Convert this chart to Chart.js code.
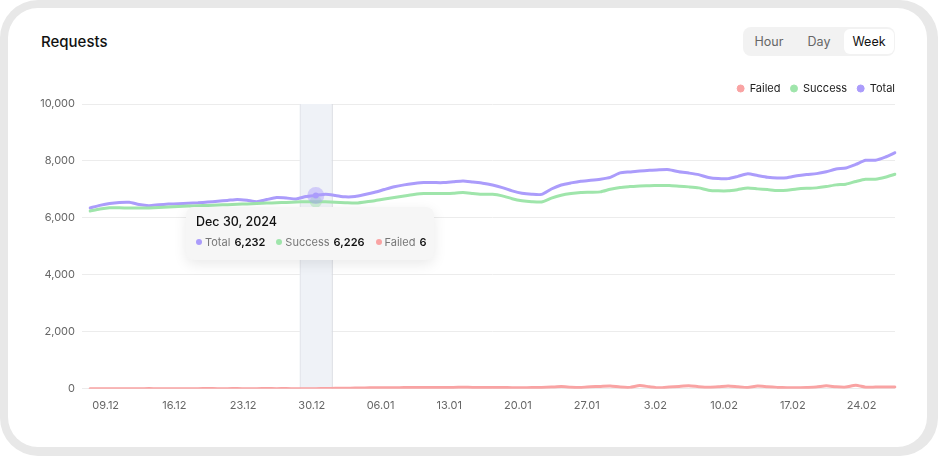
<!DOCTYPE html>
<html>
<head>
<meta charset="utf-8">
<title>Requests</title>
<script src="https://cdn.jsdelivr.net/npm/chart.js@4.4.1/dist/chart.umd.min.js"></script>
<style>
  html, body { margin: 0; padding: 0; background: #fff; }
  body { width: 938px; height: 456px; position: relative; overflow: hidden; font-family: Inter, "Noto Sans", sans-serif; }
  .frame { position: absolute; left: 0; top: 0; width: 938px; height: 456px; background: #e8e8e8; border-radius: 38px; }
  .card { position: absolute; left: 8px; top: 8px; width: 919px; height: 439px; background: #fff; border-radius: 30px; }
  .title { position: absolute; left: 41px; top: 32px; font-size: 15px; font-weight: 500; color: #111; line-height: 20px; }
  .toggle { position: absolute; left: 743px; top: 27px; width: 152px; height: 29px; background: #f2f2f2; border-radius: 8px; }
  .toggle span { position: absolute; top: 2px; height: 25px; line-height: 25px; font-size: 12.5px; color: #666; text-align: center; }
  .toggle .hour { left: 0px; width: 52px; }
  .toggle .day { left: 52px; width: 48px; }
  .toggle .week { left: 101px; width: 50px; background: #fff; border-radius: 6px; color: #111; }
  .chart-box { position: absolute; left: 20px; top: 64px; width: 890px; height: 365px; }
  .tip { position: absolute; left: 186px; top: 207px; width: 248px; height: 53px; background: #f6f6f6; border-radius: 8px;
         box-shadow: 0 4px 14px rgba(0,0,0,0.09); box-sizing: border-box; padding: 6px 0 0 10px; }
  .tip .t { font-size: 12.5px; font-weight: 500; color: #111; line-height: 18px; }
  .tip .row { margin-top: 3px; font-size: 11px; line-height: 16px; white-space: nowrap; }
  .tip .it { display: inline-block; margin-right: 11px; }
  .tip i { display: inline-block; width: 6px; height: 6px; border-radius: 50%; margin-right: 3px; vertical-align: 1px; }
  .tip .lbl { color: #777; }
  .tip b { font-weight: 600; color: #111; margin-left: 1px; }
</style>
</head>
<body>
<div class="frame"><div class="card"></div></div>
<div class="title">Requests</div>
<div class="toggle"><span class="hour">Hour</span><span class="day">Day</span><span class="week">Week</span></div>
<div class="chart-box"><canvas id="requestsChart"></canvas></div>
<div class="tip" id="tip"></div>
<script>
// Data (one point per day, 07.12.2024 - 27.02.2025)
const startDate = new Date(2024, 11, 7);
const dayCount = 83;
const tickLabels = ['09.12', '16.12', '23.12', '30.12', '06.01', '13.01', '20.01', '27.01', '3.02', '10.02', '17.02', '24.02'];
const firstTick = 2; // 09.12 is the 3rd day

const totalValues = [
  6350, 6440, 6510, 6545, 6550, 6470, 6430, 6460, 6485, 6500,
  6515, 6530, 6555, 6585, 6615, 6650, 6620, 6570, 6645, 6715,
  6700, 6665, 6750, 6790, 6830, 6790, 6740, 6750, 6820, 6900,
  7000, 7095, 7160, 7205, 7240, 7240, 7240, 7270, 7300, 7260,
  7220, 7155, 7065, 6950, 6865, 6830, 6825, 7015, 7155, 7230,
  7290, 7320, 7360, 7425, 7580, 7615, 7650, 7670, 7690, 7695,
  7620, 7575, 7520, 7420, 7380, 7380, 7460, 7550, 7490, 7430,
  7400, 7410, 7480, 7525, 7555, 7620, 7715, 7755, 7880, 8025,
  8025, 8135, 8290
];
const successValues = [
  6245, 6315, 6360, 6355, 6350, 6345, 6350, 6365, 6385, 6400,
  6415, 6430, 6440, 6455, 6465, 6480, 6490, 6505, 6520, 6535,
  6545, 6560, 6570, 6570, 6565, 6550, 6535, 6520, 6560, 6605,
  6665, 6715, 6770, 6820, 6855, 6855, 6855, 6870, 6890, 6860,
  6830, 6830, 6775, 6675, 6605, 6570, 6560, 6695, 6795, 6855,
  6890, 6900, 6915, 7005, 7070, 7100, 7125, 7130, 7140, 7140,
  7115, 7090, 7055, 6975, 6950, 6950, 6995, 7050, 7020, 6995,
  6960, 6970, 7015, 7040, 7055, 7100, 7160, 7185, 7280, 7360,
  7360, 7430, 7535
];
const failedValues = [
  4, 5, 3, 6, 5, 4, 7, 5, 6, 4,
  5, 6, 8, 5, 6, 7, 5, 6, 8, 6,
  7, 5, 6, 6, 10, 15, 20, 25, 30, 35,
  38, 40, 42, 45, 47, 48, 50, 50, 52, 50,
  48, 46, 44, 40, 38, 42, 48, 60, 80, 55,
  45, 70, 85, 100, 60, 50, 115, 70, 35, 60,
  85, 105, 75, 55, 70, 100, 70, 45, 95, 70,
  50, 40, 35, 45, 60, 105, 70, 60, 125, 55,
  60, 65, 65
];

// Hovered day and the values its tooltip shows
const hoverIndex = 23;
const hoverTitle = 'Dec 30, 2024';
const tooltipNames = ['Total', 'Success', 'Failed'];
const tooltipValues = [6232, 6226, 6];

const colors = { Total: '#ab9cfb', Success: '#9fe5ab', Failed: '#f9a3a3' };

const categories = [];
for (let i = 0; i < dayCount; i++) {
  const d = new Date(startDate);
  d.setDate(d.getDate() + i);
  categories.push(String(d.getDate()).padStart(2, '0') + '.' + String(d.getMonth() + 1).padStart(2, '0'));
}

// Hover band + halo on the hovered point
const hoverPlugin = {
  id: 'hoverBand',
  beforeDatasetsDraw(chart) {
    const { ctx, chartArea, scales } = chart;
    const x = scales.x.getPixelForValue(hoverIndex);
    ctx.save();
    ctx.fillStyle = '#eff2f7';
    ctx.fillRect(x - 16, chartArea.top, 32, chartArea.bottom - chartArea.top);
    ctx.strokeStyle = '#e2e5ea';
    ctx.lineWidth = 1;
    ctx.beginPath();
    ctx.moveTo(x - 15.5, chartArea.top);
    ctx.lineTo(x - 15.5, chartArea.bottom);
    ctx.stroke();
    ctx.strokeStyle = '#d9dce2';
    ctx.beginPath();
    ctx.moveTo(x + 16.5, chartArea.top);
    ctx.lineTo(x + 16.5, chartArea.bottom);
    ctx.stroke();
    ctx.restore();
  },
  afterDatasetsDraw(chart) {
    const { ctx, scales } = chart;
    const x = scales.x.getPixelForValue(hoverIndex);
    const yTotal = scales.y.getPixelForValue(totalValues[hoverIndex]);
    const ySuccess = scales.y.getPixelForValue(successValues[hoverIndex]);
    ctx.save();
    ctx.fillStyle = 'rgba(159,229,171,0.45)';
    ctx.beginPath();
    ctx.arc(x, ySuccess, 6, 0, Math.PI * 2);
    ctx.fill();
    ctx.fillStyle = 'rgba(171,156,251,0.45)';
    ctx.beginPath();
    ctx.arc(x, yTotal, 8.5, 0, Math.PI * 2);
    ctx.fill();
    ctx.fillStyle = colors.Total;
    ctx.beginPath();
    ctx.arc(x, yTotal, 3, 0, Math.PI * 2);
    ctx.fill();
    ctx.restore();
  }
};

const ctx = document.getElementById('requestsChart').getContext('2d');
new Chart(ctx, {
  type: 'line',
  data: {
    labels: categories,
    datasets: [
      { label: 'Failed', data: failedValues, borderColor: colors.Failed, backgroundColor: colors.Failed },
      { label: 'Success', data: successValues, borderColor: colors.Success, backgroundColor: colors.Success },
      { label: 'Total', data: totalValues, borderColor: colors.Total, backgroundColor: colors.Total }
    ]
  },
  options: {
    responsive: true,
    maintainAspectRatio: false,
    animation: false,
    layout: { padding: { top: 9, right: 5, bottom: 15, left: 0 } },
    elements: {
      line: { borderWidth: 3, tension: 0.2, borderCapStyle: 'round', borderJoinStyle: 'round' },
      point: { radius: 0, hoverRadius: 0 }
    },
    plugins: {
      legend: {
        position: 'top',
        align: 'end',
        labels: {
          usePointStyle: true,
          pointStyle: 'circle',
          pointStyleWidth: 7,
          boxHeight: 5,
          padding: 10,
          color: '#222',
          font: { family: 'Inter', size: 11 }
        }
      },
      tooltip: { enabled: false }
    },
    scales: {
      x: {
        grid: { display: false },
        border: { display: false },
        ticks: {
          autoSkip: false,
          maxRotation: 0,
          padding: 2,
          labelOffset: -4,
          color: '#666',
          font: { family: 'Inter', size: 11 },
          callback: function(value, index) {
            const k = index - firstTick;
            return (k >= 0 && k % 7 === 0) ? (tickLabels[k / 7] || '') : '';
          }
        }
      },
      y: {
        min: 0,
        max: 10000,
        border: { display: false },
        grid: { color: '#ececec', tickLength: 8 },
        ticks: {
          stepSize: 2000,
          padding: 7,
          color: '#666',
          font: { family: 'Inter', size: 11 },
          callback: v => v.toLocaleString('en-US')
        },
        afterFit(axis) { axis.width = 70; }
      },
      y2: {
        position: 'right',
        display: true,
        grid: { display: false },
        border: { display: false },
        ticks: { display: false },
        afterFit(axis) { axis.width = 10; }
      }
    }
  },
  plugins: [hoverPlugin]
});

// Tooltip box for the hovered day
const tip = document.getElementById('tip');
let rowHtml = '';
tooltipNames.forEach((name, i) => {
  rowHtml += `<span class="it"><i style="background:${colors[name]}"></i><span class="lbl">${name}</span> <b>${tooltipValues[i].toLocaleString('en-US')}</b></span>`;
});
tip.innerHTML = `<div class="t">${hoverTitle}</div><div class="row">${rowHtml}</div>`;
</script>
</body>
</html>
